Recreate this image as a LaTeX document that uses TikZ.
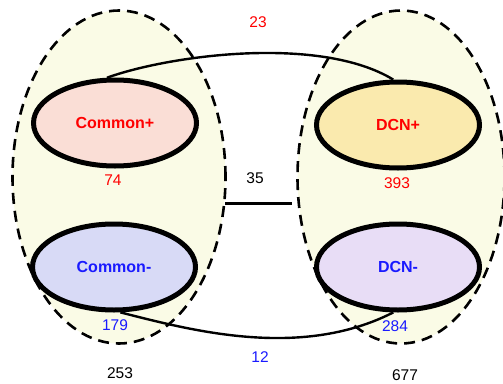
\documentclass[tikz,border=0pt]{standalone}
\usepackage{fontspec}
\setmainfont{Liberation Sans}
\usetikzlibrary{shapes.geometric}
\definecolor{groupfill}{HTML}{FAFBE6}
\definecolor{pluscfill}{HTML}{FADED6}
\definecolor{plusdfill}{HTML}{FAEAAE}
\definecolor{minuscfill}{HTML}{D8DAF6}
\definecolor{minusdfill}{HTML}{E8DDF6}
\definecolor{redtxt}{HTML}{FF0000}
\definecolor{bluetxt}{HTML}{1A1AFF}
\begin{document}
\begin{tikzpicture}[x=1pt,y=-1pt,
  group/.style={ellipse,draw=black,dash pattern=on 11pt off 7pt,line width=2.6pt,fill=groupfill,inner sep=0pt},
  setnode/.style={ellipse,draw=black,line width=5pt,minimum width=163pt,minimum height=86pt,inner sep=0pt,font=\bfseries\fontsize{16}{18}\selectfont},
  count/.style={font=\fontsize{15.5}{18}\selectfont,inner sep=0pt},
  link/.style={draw=black,line width=2.4pt}]
\useasboundingbox (0,0) rectangle (503,383);

% the two dashed groups
\node[group,minimum width=213pt,minimum height=333pt] (L) at (119,177) {};
\node[group,minimum width=207pt,minimum height=333pt] (R) at (401,177) {};

% the four sets
\node[setnode,fill=pluscfill,text=redtxt] (cp) at (115,123) {Common+};
\node[setnode,fill=plusdfill,text=redtxt] (dp) at (398,125) {DCN+};
\node[setnode,fill=minuscfill,text=bluetxt] (cm) at (114,267) {Common-};
\node[setnode,fill=minusdfill,text=bluetxt] (dm) at (398,267) {DCN-};

% links between the sets
\draw[link] (cp.100) .. controls (170,55) and (320,35) .. (dp.96);
\draw[link] (cm.-82) .. controls (190,330) and (300,360) .. (dm.-96);
\coordinate (ml) at (L.-14);
\coordinate (mr) at (292,0);
\draw[link] (ml) -- (mr |- ml);

% counts
\node[count,text=redtxt] (n23) at (258,22) {23};
\node[count] (n35) at (255,178) {35};
\node[count,text=bluetxt] (n12) at (260,357) {12};
\node[count,text=redtxt] (n74) at (113,180) {74};
\node[count,text=redtxt] (n393) at (397,183) {393};
\node[count,text=bluetxt] (n179) at (115,325) {179};
\node[count,text=bluetxt] (n284) at (395,326) {284};
\node[count] (n253) at (120,373) {253};
\node[count] (n677) at (405,375) {677};
\end{tikzpicture}
\end{document}
